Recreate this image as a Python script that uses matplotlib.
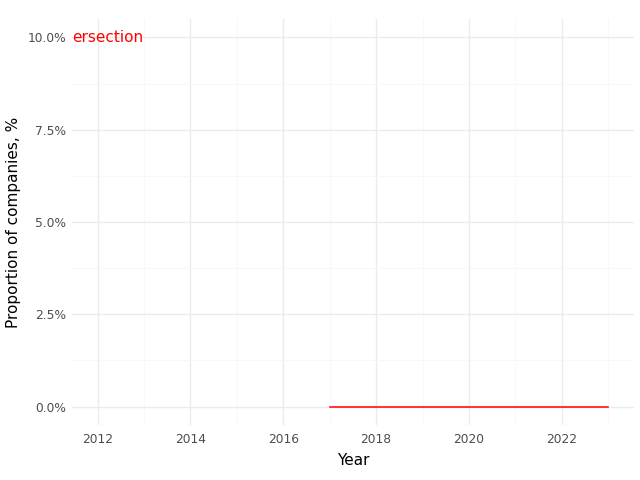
import matplotlib
matplotlib.use("Agg")
import matplotlib.pyplot as plt
from matplotlib.ticker import FuncFormatter, MultipleLocator

# ── Data ──────────────────────────────────────────────────────────────────────
years = [2017, 2018, 2019, 2020, 2021, 2022, 2023]
share = [0.0, 0.0, 0.0, 0.0, 0.0, 0.0, 0.0]
label_text = "ersection"

GRID_MAJOR = '#EBEBEB'
GRID_MINOR = '#F7F7F7'
TICK_COL = '#4D4D4D'

# ── Figure ────────────────────────────────────────────────────────────────────
fig = plt.figure(figsize=(6.4, 4.8), dpi=100)
ax = fig.add_axes([0.1125, 0.1146, 0.878, 0.8458])

ax.plot(years, share, color='red', linewidth=1.1, zorder=3)

ax.set_xlim(2011.45, 2023.55)
ax.set_ylim(-0.5, 10.5)

ax.xaxis.set_major_locator(MultipleLocator(2))
ax.xaxis.set_minor_locator(MultipleLocator(1))
ax.yaxis.set_major_locator(MultipleLocator(2.5))
ax.yaxis.set_minor_locator(MultipleLocator(1.25))
ax.yaxis.set_major_formatter(FuncFormatter(lambda v, p: f"{v:.1f}%"))

ax.grid(which='major', color=GRID_MAJOR, linewidth=1.0, zorder=0)
ax.grid(which='minor', color=GRID_MINOR, linewidth=0.6, zorder=0)
ax.set_axisbelow(True)

for s in ax.spines.values():
    s.set_visible(False)
ax.tick_params(which='both', length=0, labelsize=8.8, labelcolor=TICK_COL, pad=4)
ax.tick_params(axis='x', pad=6)

ax.text(0.0, 10.0, label_text, transform=ax.get_yaxis_transform(),
        color='red', fontsize=11, ha='left', va='center')

ax.set_xlabel("Year", fontsize=11, color='black', labelpad=5)
ax.set_ylabel("Proportion of companies, %", fontsize=11, color='black', labelpad=5)

plt.savefig("out.png", dpi=100, facecolor='white')
